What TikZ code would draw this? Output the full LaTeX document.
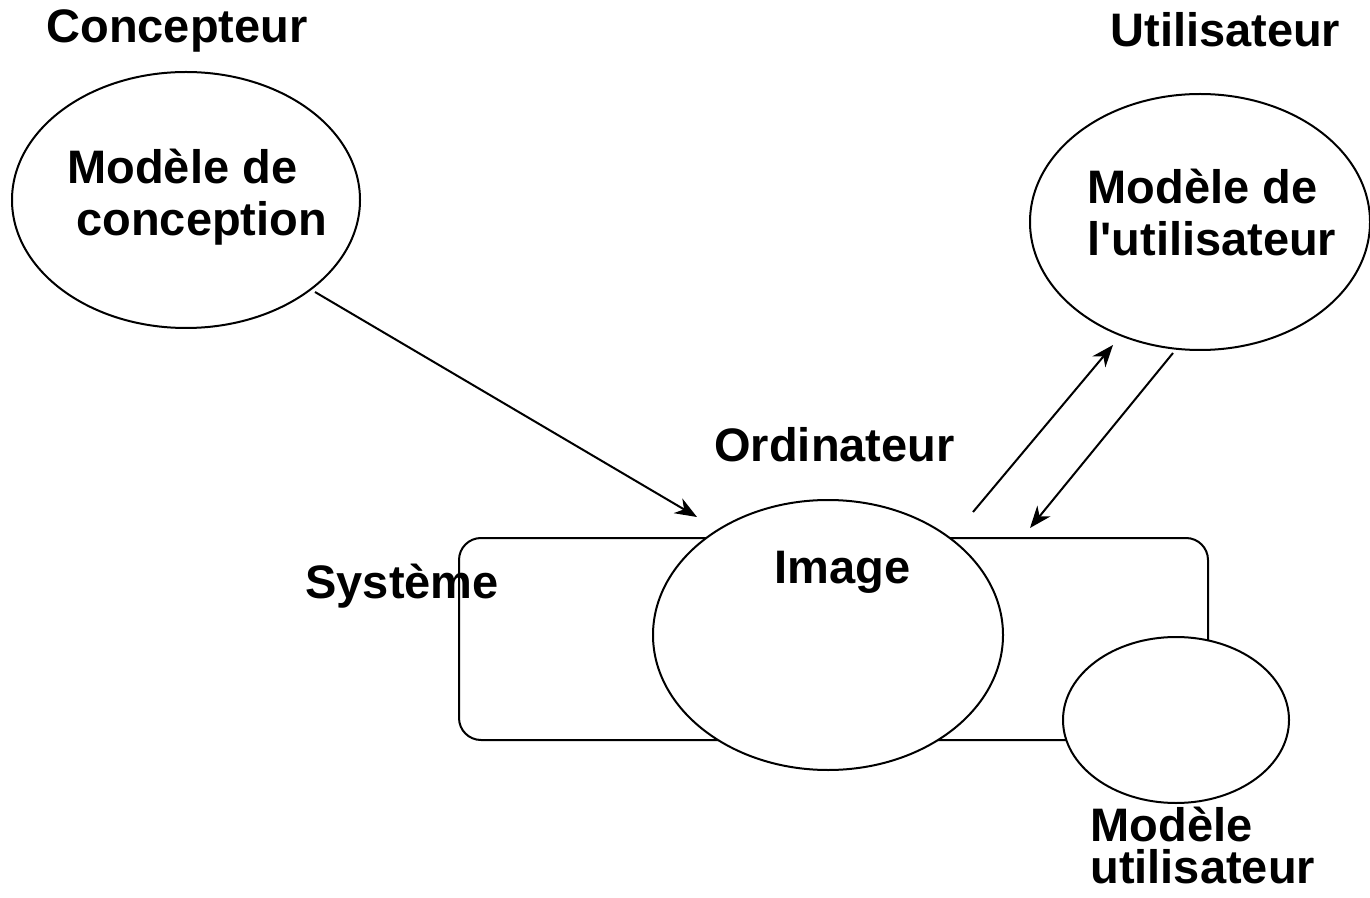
\documentclass[tikz,border=0pt]{standalone}
\usepackage{fontspec}
\setmainfont{Liberation Sans}[Ligatures=TeXOff]
\usetikzlibrary{arrows.meta}
\begin{document}
\begin{tikzpicture}[x=0.5pt,y=-0.5pt,
  lbl/.style={inner sep=0pt,anchor=base west,align=left,font=\fontsize{23.5}{26}\selectfont\bfseries},
  flow/.style={line width=1pt,-{Stealth[length=11pt,width=8.5pt,inset=3.5pt]}}]
\useasboundingbox (0,0) rectangle (1370,898);

% computer system frame
\draw[line width=1pt,rounded corners=11pt] (459,538) rectangle (1208,740);

% mental models and the screen image
\draw[line width=1pt,fill=white] (186,200) ellipse [x radius=174,y radius=128];
\coordinate (concA) at (315,292);
\draw[line width=1pt,fill=white] (1200,222) ellipse [x radius=170,y radius=128];
\coordinate (utilA) at (1113,345);
\coordinate (utilB) at (1173,353);
\draw[line width=1pt,fill=white] (828,635) ellipse [x radius=175,y radius=135];
\coordinate (imgA) at (697,517);
\coordinate (imgB) at (973,512);
\coordinate (imgC) at (1030,528);
\draw[line width=1pt,fill=white] (1176,720) ellipse [x radius=113,y radius=83];

% labels (multi-line nodes are anchored on their last baseline)
\node[lbl] (tconc) at (46,43) {Concepteur};
\node[lbl] (tmc1) at (67,184) {Modèle de};
\node[lbl] (tmc2) at (76,236) {conception};
\node[lbl] (tutil) at (1110,47) {Utilisateur};
\node[lbl] (tmu) at (1087,256) {Modèle de\\l'utilisateur};
\node[lbl] (tord) at (714,461) {Ordinateur};
\node[lbl] (tsys) at (305,598) {Système};
\node[lbl] (timg) at (774,583) {Image};
\node[lbl,font=\fontsize{23.5}{21}\selectfont\bfseries] (tmod) at (1090,883) {Modèle\\utilisateur};

% connectors
\draw[flow] (concA) -- (imgA);
\draw[flow] (imgB) -- (utilA);
\draw[flow] (utilB) -- (imgC);
\end{tikzpicture}
\end{document}
